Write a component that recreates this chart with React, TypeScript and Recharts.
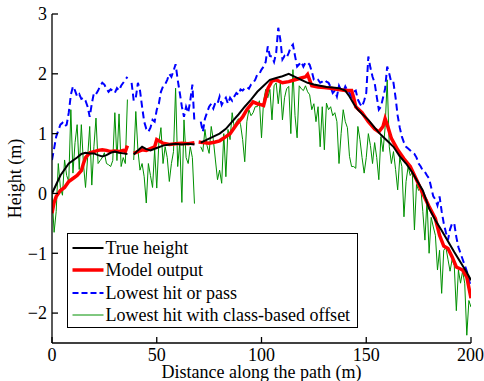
import React from 'react';
import { LineChart, Line, XAxis, YAxis, Legend } from 'recharts';

const FONT = '"Liberation Serif", "Times New Roman", Times, serif';

const xTicks = [0, 50, 100, 150, 200];
const yTicks = [-2, -1, 0, 1, 2, 3];

// True height (black)
const trueX = [0, 2, 4, 6, 8, 10, 12, 14, 16, 18, 20, 22, 24, 26, 28, 30, 32, 34, 36, 37, 39, 41, 43, 45, 47, 50, 53, 56, 59, 62, 65, 68, 69, 71, 74, 77, 80, 83, 86, 89, 92, 95, 98, 101, 104, 107, 110, 113, 116, 119, 122, 125, 128, 131, 134, 137, 140, 142, 144, 146, 148, 151, 154, 157, 160, 163, 166, 169, 172, 174, 177, 180, 183, 186, 189, 192, 195, 198, 200];
const trueY = [0, 0.15, 0.3, 0.4, 0.5, 0.55, 0.6, 0.66, 0.68, 0.67, 0.67, 0.64, 0.62, 0.64, 0.68, 0.7, 0.68, 0.67, 0.66, null, 0.65, 0.72, 0.78, 0.74, 0.72, 0.76, 0.8, 0.82, 0.83, 0.82, 0.83, 0.82, null, 0.85, 0.9, 0.95, 1.0, 1.08, 1.2, 1.32, 1.45, 1.57, 1.7, 1.8, 1.9, 1.93, 1.96, 2.0, 1.95, 1.9, 1.85, 1.82, 1.8, 1.78, 1.77, 1.76, 1.72, 1.62, 1.5, 1.4, 1.33, 1.23, 1.1, 0.98, 0.88, 0.78, 0.62, 0.5, 0.35, 0.23, 0.05, -0.25, -0.45, -0.62, -0.8, -0.98, -1.15, -1.32, -1.45];

// Model output (red)
const modelX = [0, 1, 2, 4, 6, 8, 10, 12, 14, 15, 16, 18, 20, 22, 24, 26, 28, 30, 32, 34, 35, 36, 37, 39, 41, 43, 45, 47, 49, 50, 51, 53, 56, 59, 62, 65, 68, 69, 70, 72, 75, 78, 80, 83, 85, 88, 91, 93, 96, 98, 100, 101, 103, 105, 107, 110, 113, 116, 119, 121, 122, 124, 127, 130, 133, 136, 140, 143, 144, 145, 148, 151, 154, 156, 158, 159, 160, 162, 165, 168, 171, 174, 177, 180, 183, 185, 187, 189, 191, 193, 196, 198, 200];
const modelY = [-0.33, -0.15, -0.05, 0.05, 0.1, 0.2, 0.25, 0.3, 0.38, 0.5, 0.6, 0.68, 0.7, 0.72, 0.73, 0.72, 0.7, 0.71, 0.7, 0.72, 0.7, 0.8, null, 0.67, 0.7, 0.73, 0.72, 0.75, 0.78, 0.9, 0.88, 0.84, 0.82, 0.83, 0.84, 0.83, 0.85, null, 0.86, 0.85, 0.84, 0.86, 0.88, 0.95, 1.0, 1.15, 1.28, 1.4, 1.53, 1.5, 1.48, 1.47, 1.75, 1.88, 1.9, 1.85, 1.87, 1.9, 1.93, 1.95, 1.99, 1.8, 1.78, 1.77, 1.76, 1.74, 1.72, 1.72, 1.6, 1.45, 1.35, 1.2, 1.08, 1.03, 1.12, 1.25, 1.15, 0.92, 0.73, 0.58, 0.45, 0.23, 0.0, -0.22, -0.42, -0.7, -0.88, -0.92, -1.06, -1.23, -1.28, -1.4, -1.75];

// Lowest hit or pass (blue dashed), one value per metre 0..200
const lowestPass = [
  0.56, 0.75, 0.95, 1.05, 1.15, 1.18, 1.12, 1.15, 1.35, 1.65,
  1.79, 1.72, 1.62, 1.66, 1.58, 1.6, 1.55, 1.45, 1.28, 1.5,
  1.68, 1.66, 1.72, 1.8, 1.85, 1.82, 1.75, 1.7, 1.74, 1.72,
  1.68, 1.76, 1.72, 1.8, 1.85, 1.9, 1.95, null, 1.85, 1.55,
  1.6, 1.85, 1.72, 1.45, 1.2, 1.08, 1.03, 1.1, 1.23, 1.2,
  1.4, 1.5, 1.7, 1.79, 1.82, 1.9, 2.0, 1.95, 2.05, 2.16,
  1.9, 1.68, 1.45, 1.28, 1.45, 1.35, 1.55, 1.82, 1.18, null,
  null, 1.2, 1.03, 1.25, 1.35, 1.45, 1.5, 1.42, 1.52, 1.5,
  1.62, 1.48, 1.55, 1.6, 1.5, 1.6, 1.55, 1.62, 1.68, 1.65,
  1.74, 1.72, 1.76, 1.78, 1.75, 1.82, 1.85, 1.9, 1.99, 2.0,
  2.07, 2.12, 2.2, 2.46, 2.3, 2.29, 2.2, 2.35, 2.77, 2.57,
  2.24, 2.3, 2.27, 2.35, 2.45, 2.49, 2.3, 2.12, 2.16, 2.2,
  2.12, 2.19, 2.19, 2.15, 2.04, 1.9, 1.88, 1.9, 1.85, 1.87,
  1.9, 1.87, 1.85, 1.78, 1.68, 1.72, 1.62, 1.8, 1.72, 1.7,
  1.79, 1.72, 1.68, 1.62, 1.7, 1.72, 1.57, 1.5, 1.45, 1.55,
  1.68, 2.29, 2.1, 1.95, 1.85, 1.62, 1.4, 1.45, 1.6, 1.75,
  2.12, 2.0, 1.85, 1.85, 1.6, 1.3, 1.1, 0.95, 0.85, 0.78,
  0.75, 0.72, 0.68, 0.66, 0.6, 0.5, 0.45, 0.38, 0.36, 0.3,
  0.25, 0.1, -0.05, -0.1, -0.2, -0.05, -0.3, -0.5, -0.65, -0.78,
  -0.6, -0.5, -0.5, -0.73, -0.9, -1.0, -1.1, -1.2, -1.3, -1.45,
  -1.55,
];

// Lowest hit with class-based offset (green), one value per metre 0..200
const lowestOffset = [
  0.0, -0.65, -0.3, 0.5, 0.1, -0.03, 0.56, 0.3, 0.2, 1.4,
  0.34, 0.85, 1.15, 0.4, 1.15, 0.5, 0.1, 0.6, 1.12, 0.14,
  0.78, 1.26, 0.5, 0.55, 0.6, 0.68, 0.5, 0.48, 0.45, 0.55,
  1.35, 0.55, 1.33, 0.45, 0.6, 0.5, 1.57, null, null, 0.56,
  1.37, 0.73, 0.39, 0.5, 0.28, -0.16, 0.5, 0.3, 0.1, 0.73,
  0.09, 0.85, 1.1, 0.5, 0.78, 0.6, 0.2, 0.5, 0.7, 1.76,
  0.45, 0.85, -0.15, 1.23, 0.6, 0.5, 0.78, 0.6, -0.17, null,
  null, 0.78, 0.7, 1.07, 0.8, 0.67, 1.12, 0.9, 0.56, 0.23,
  0.39, 0.17, 1.0, 0.28, 1.07, 0.9, 1.35, 1.1, 1.2, 1.25,
  1.15, 0.9, 0.53, 1.2, 1.4, 1.3, 1.35, 1.45, 1.45, 1.55,
  0.93, 1.55, 1.74, 1.6, 1.74, 1.23, 1.8, 1.85, 1.5, 1.85,
  1.23, 1.6, 1.75, 1.79, 1.0, 2.07, 1.3, 0.93, 1.8, 1.75,
  1.72, 1.8, 1.7, 1.65, 1.4, 1.5, 1.2, 1.45, 0.78, 1.45,
  0.73, 1.51, 1.4, 1.45, 1.3, 1.35, 1.2, 0.5, 1.0, 1.4,
  1.2, 1.1, 0.62, 0.45, 0.45, 0.42, 1.12, 0.9, 0.6, 0.34,
  0.6, 1.0, 0.8, 0.5, 0.85, 0.6, 0.23, 0.95, 0.7, 1.1,
  1.9, 0.78, 0.5, 0.7, 0.4, 0.06, 0.6, 0.45, -0.39, 0.2,
  0.45, 0.3, 0.35, -0.61, 0.15, 0.05, 0.1, -0.3, -0.78, -0.1,
  -1.0, -0.4, -0.56, -0.7, -1.28, -0.95, -1.67, -0.95, -0.9, -1.1,
  -1.3, -1.1, -1.2, -1.96, -1.28, -1.5, -1.3, -1.5, -2.37, -1.79,
  -1.9,
];

const legendItems = [
  { label: 'True height', color: '#000000', width: 2, dash: undefined as string | undefined },
  { label: 'Model output', color: '#ff0000', width: 3.5, dash: undefined as string | undefined },
  { label: 'Lowest hit or pass', color: '#0000ff', width: 2, dash: '6 3' },
  { label: 'Lowest hit with class-based offset', color: '#009000', width: 1, dash: undefined as string | undefined },
];

const fmt = (v: number) => (v < 0 ? '\u2212' + Math.abs(v) : String(v));

const renderLegend = () => (
  <div
    style={{
      boxSizing: 'border-box',
      width: 291,
      height: 95,
      border: '1.5px solid #000',
      background: '#fff',
      paddingTop: 2.25,
      fontFamily: FONT,
      fontSize: 18,
      color: '#000',
    }}
  >
    {legendItems.map((it) => (
      <div key={it.label} style={{ display: 'flex', alignItems: 'center', height: 22.5 }}>
        <svg width={37.5} height={22} style={{ flex: 'none' }}>
          <line x1={4.5} x2={35.5} y1={11} y2={11} stroke={it.color} strokeWidth={it.width} strokeDasharray={it.dash} />
        </svg>
        <span style={{ whiteSpace: 'nowrap', lineHeight: '22px' }}>{it.label}</span>
      </div>
    ))}
  </div>
);

const XLabel = () => (
  <text x={261.5} y={378} textAnchor="middle" fill="#000" fontFamily={FONT} fontSize={18}>
    Distance along the path (m)
  </text>
);

const YLabel = () => (
  <text transform="translate(21.4, 178.5) rotate(-90)" x={0} y={0} textAnchor="middle" fill="#000" fontFamily={FONT} fontSize={18}>
    Height (m)
  </text>
);

export default function App() {
  const trueData = trueX.map((x, i) => ({ x, y: trueY[i] }));
  const modelData = modelX.map((x, i) => ({ x, y: modelY[i] }));
  const passData = lowestPass.map((y, i) => ({ x: i, y }));
  const offsetData = lowestOffset.map((y, i) => ({ x: i, y }));
  const tickStyle = { fill: '#000', fontSize: 18, fontFamily: FONT };
  return (
    <div style={{ position: 'absolute', left: 0, top: 0, width: 484, height: 381, background: '#fff', overflow: 'hidden' }}>
      <LineChart width={484} height={381} margin={{ top: 14, right: 13, bottom: 0, left: 0 }}>
        <XAxis
          type="number"
          dataKey="x"
          domain={[0, 200]}
          ticks={xTicks}
          allowDataOverflow
          height={38}
          axisLine={{ stroke: '#000', strokeWidth: 1.3 }}
          tickLine={{ stroke: '#000', strokeWidth: 1.3 }}
          tickSize={-6}
          tickMargin={11}
          tick={tickStyle}
          label={XLabel}
        />
        <YAxis
          type="number"
          domain={[-2.5, 3]}
          ticks={yTicks}
          allowDataOverflow
          width={52}
          axisLine={{ stroke: '#000', strokeWidth: 1.3 }}
          tickLine={{ stroke: '#000', strokeWidth: 1.3 }}
          tickSize={-6}
          tickMargin={11}
          tick={tickStyle}
          tickFormatter={fmt}
          label={YLabel}
        />
        <Line data={offsetData} dataKey="y" stroke="#009000" strokeWidth={1} dot={false} isAnimationActive={false} />
        <Line data={passData} dataKey="y" stroke="#0000ff" strokeWidth={2} strokeDasharray="7 4" dot={false} isAnimationActive={false} />
        <Line data={modelData} dataKey="y" stroke="#ff0000" strokeWidth={3.5} dot={false} isAnimationActive={false} />
        <Line data={trueData} dataKey="y" stroke="#000000" strokeWidth={2} dot={false} isAnimationActive={false} />
        <Legend
          content={renderLegend}
          layout="horizontal"
          verticalAlign="middle"
          align="center"
          wrapperStyle={{ left: 67, top: 233, width: 291, height: 95 }}
        />
      </LineChart>
    </div>
  );
}
